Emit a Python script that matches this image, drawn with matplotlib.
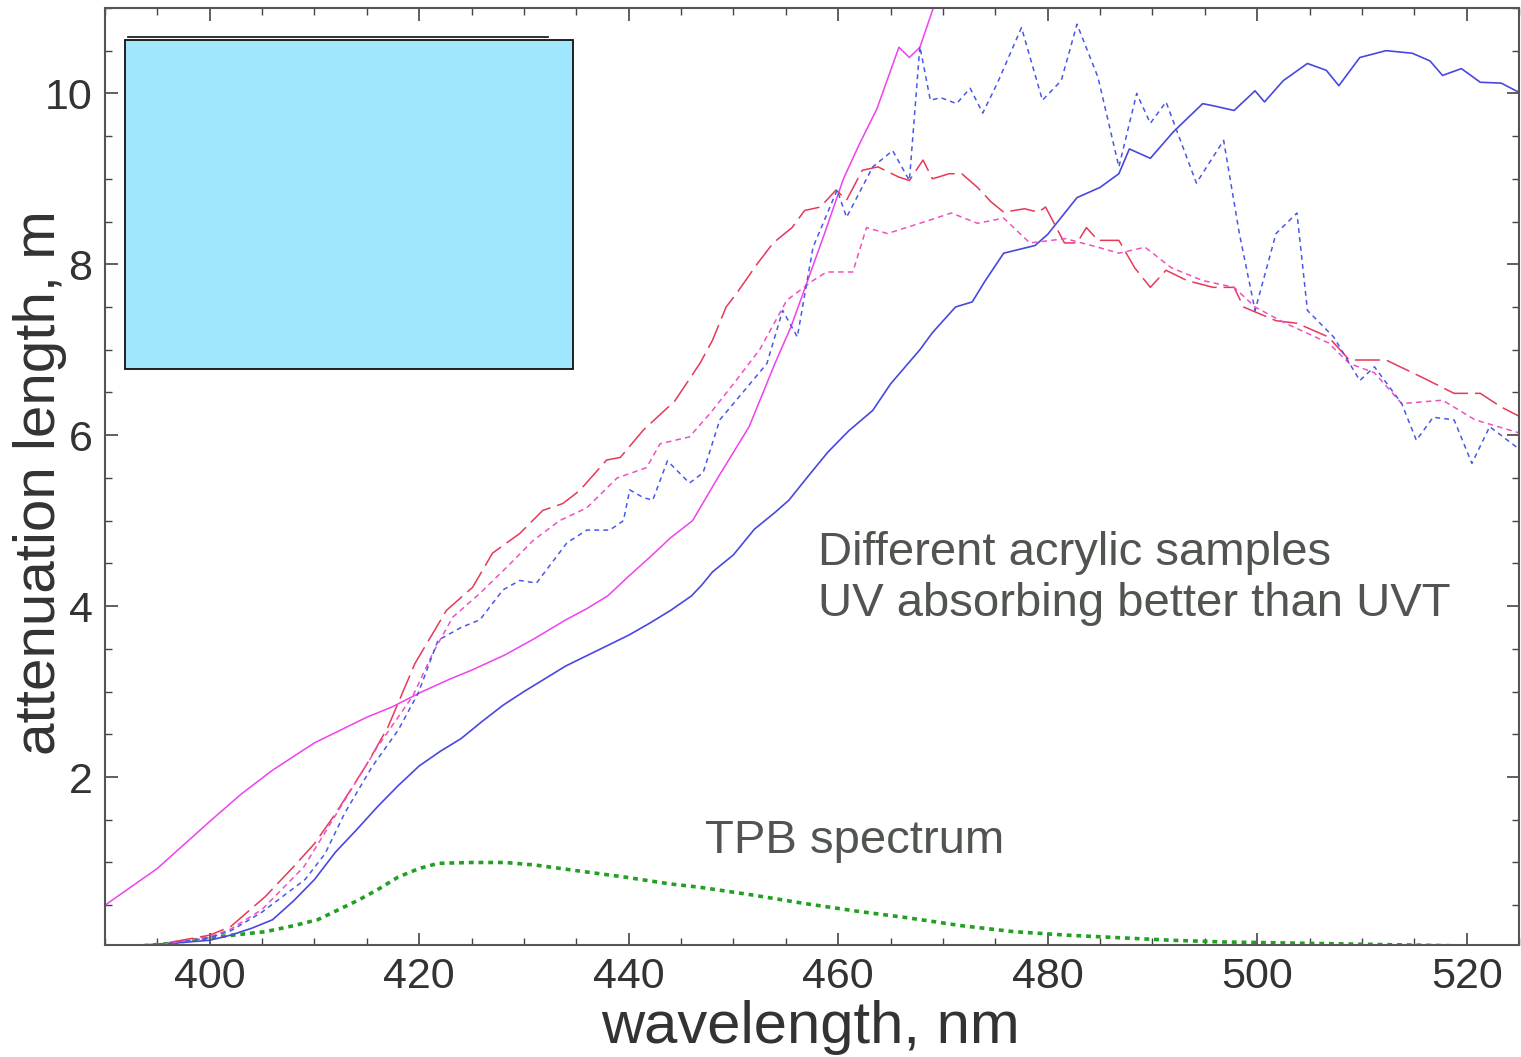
import matplotlib
matplotlib.use("Agg")
import matplotlib.pyplot as plt
from matplotlib.patches import Rectangle
from matplotlib.ticker import MultipleLocator

plt.rcParams['lines.scale_dashes'] = False

# magenta solid sample
wl_mag = [390, 395, 400, 403, 406, 410, 415, 417.4, 420.3, 423, 425, 428.2, 431, 434, 436, 438,
          440, 442, 444, 446.1, 448.5, 450, 451.5, 453, 454, 455.5, 457, 458.7, 460.5, 462,
          463.7, 465.8, 466.8, 467.8, 469, 470]
att_mag = [0.5, 0.93, 1.48, 1.8, 2.08, 2.4, 2.7, 2.82, 3.0, 3.15, 3.25, 3.43, 3.62, 3.84, 3.97, 4.12,
           4.35, 4.57, 4.8, 5.0, 5.5, 5.8, 6.1, 6.55, 6.85, 7.27, 7.78, 8.36, 9.0, 9.4,
           9.82, 10.54, 10.42, 10.54, 10.97, 11.4]

# blue solid sample
wl_blue = [390, 393, 396, 400, 402, 404, 406, 408, 410, 412, 414, 416, 418, 420, 422, 424, 426,
           428, 430, 432, 434, 436, 438, 440, 442, 444, 446, 447, 448, 450, 452, 454, 455.3,
           457, 459, 461, 463.3, 465, 467.8, 469, 471.2, 472.8, 474, 475.8, 478.8, 480, 482.8,
           485, 486.8, 487.8, 489.8, 492, 494.8, 496, 497.8, 499.8, 500.7, 502.5, 504.8, 506.6,
           507.8, 509.8, 512.3, 514.8, 516.5, 517.7, 519.5, 521.3, 523.3, 525.2]
att_blue = [0.02, 0.03, 0.05, 0.09, 0.15, 0.23, 0.33, 0.55, 0.8, 1.12, 1.38, 1.65, 1.9, 2.13, 2.3, 2.45, 2.65,
            2.84, 3.0, 3.15, 3.3, 3.42, 3.54, 3.66, 3.8, 3.95, 4.12, 4.25, 4.4, 4.6, 4.9, 5.1, 5.24,
            5.5, 5.8, 6.05, 6.29, 6.6, 7.0, 7.2, 7.5, 7.56, 7.8, 8.13, 8.22, 8.35, 8.78,
            8.9, 9.06, 9.35, 9.24, 9.55, 9.88, 9.85, 9.8, 10.03, 9.9, 10.15, 10.35, 10.27,
            10.09, 10.42, 10.5, 10.47, 10.38, 10.21, 10.29, 10.13, 10.12, 10.0]

# red long-dashed sample
wl_red = [390, 393, 396, 400, 402, 405.3, 408, 410, 412, 415, 417, 419.6, 422.6, 425.1, 427, 429.6,
          431.8, 433.7, 435.3, 437.9, 439.2, 441.4, 444.4, 446.8, 448, 449.3, 450.3, 452.3, 453.8, 455.6,
          456.8, 458.3, 459.8, 460.8, 462.3, 463.8, 465.8, 466.8, 468.1, 469, 470.6, 471.8, 473.3,
          474.6, 475.8, 477.8, 479.1, 479.8, 481.6, 482.8, 483.7, 484.8, 486.8, 488.3, 489.8, 491.3,
          493.3, 495.8, 497.8, 498.7, 501.8, 503.8, 506.8, 508.8, 510.8, 512.3, 515.7, 518.8, 521.3,
          523.3, 525.2]
att_red = [0.0, 0.02, 0.06, 0.15, 0.25, 0.6, 0.95, 1.22, 1.57, 2.15, 2.58, 3.33, 3.95, 4.22, 4.62, 4.85,
           5.12, 5.2, 5.35, 5.71, 5.74, 6.06, 6.4, 6.84, 7.11, 7.5, 7.66, 8.01, 8.25, 8.43,
           8.63, 8.67, 8.87, 8.75, 9.1, 9.14, 9.02, 8.98, 9.22, 9.0, 9.06, 9.06, 8.9,
           8.73, 8.61, 8.65, 8.61, 8.67, 8.25, 8.25, 8.43, 8.28, 8.28, 7.96, 7.73, 7.93,
           7.81, 7.73, 7.73, 7.5, 7.34, 7.31, 7.15, 6.88, 6.88, 6.88, 6.68, 6.49, 6.49,
           6.33, 6.21]

# pink short-dashed sample
wl_pink = [390, 393, 396, 400, 402, 405, 409, 413, 416, 419.4, 421.3, 423.2, 425.8, 428.4,
           430.9, 433.4, 436, 438.9, 441.7, 443, 445.8, 447.8, 450, 452.5, 455.1, 457.6, 458.9,
           461.4, 462.7, 464.7, 467.8, 470.8, 473.3, 475.8, 478.3, 481.7, 484.8, 486.8, 489.3,
           491.8, 494.8, 497.8, 499.8, 502.7, 506.8, 508.8, 511.2, 513.8, 517.7, 520.8, 525.2]
att_pink = [0.0, 0.02, 0.05, 0.13, 0.22, 0.45, 0.95, 1.75, 2.35, 2.95, 3.45, 3.87, 4.15, 4.46,
            4.77, 5.0, 5.15, 5.5, 5.62, 5.9, 5.98, 6.26, 6.6, 7.0, 7.58, 7.81, 7.91,
            7.91, 8.43, 8.36, 8.48, 8.6, 8.48, 8.54, 8.25, 8.3, 8.2, 8.13, 8.2,
            7.96, 7.81, 7.73, 7.5, 7.31, 7.08, 6.84, 6.73, 6.37, 6.41, 6.18, 6.02]

# blue dotted sample
wl_bdot = [390, 393, 396, 400, 402, 405, 409.1, 411, 412.9, 415.5, 418, 419.9, 421.8, 424, 425.8, 428,
           429.6, 431.2, 434.1, 436, 438.2, 439.5, 440.1, 441.4, 442.3, 443.7, 445.8, 447.1, 448.7,
           451.3, 453.2, 454.7, 456.1, 457.6, 459.9, 460.8, 463.3, 465.2, 466.8, 467.8, 468.8, 469.8,
           471.3, 472.6, 473.8, 475.2, 477.5, 479.5, 481.3, 482.8, 484.8, 486.8, 488.5, 489.8,
           491.3, 494.2, 496.8, 498.3, 499.8, 501.8, 503.8, 504.8, 507.3, 509.8, 511.2, 513.8,
           515.2, 516.8, 518.8, 520.5, 522.2, 525.2]
att_bdot = [0.0, 0.02, 0.05, 0.12, 0.2, 0.42, 0.8, 1.1, 1.58, 2.12, 2.55, 2.98, 3.6, 3.75, 3.84, 4.19,
            4.3, 4.27, 4.74, 4.89, 4.89, 5.0, 5.36, 5.27, 5.24, 5.7, 5.44, 5.56, 6.18,
            6.56, 6.84, 7.46, 7.15, 8.2, 8.87, 8.55, 9.14, 9.33, 8.98, 10.55, 9.92, 9.95,
            9.88, 10.06, 9.77, 10.12, 10.77, 9.92, 10.15, 10.81, 10.19, 9.14, 10.0, 9.65,
            9.9, 8.95, 9.45, 8.36, 7.46, 8.36, 8.6, 7.46, 7.15, 6.64, 6.8, 6.37,
            5.94, 6.21, 6.18, 5.67, 6.1, 5.82]

# TPB emission spectrum (normalised)
wl_tpb = [390, 393, 396, 400, 403, 405.3, 408, 410.3, 412, 414.2, 416, 418, 420, 421.8, 425,
          428.2, 431.1, 435.3, 439.6, 443.9, 446.8, 451.8, 456.8, 461.8, 466.8, 471.8, 476.8,
          481.8, 486.8, 491.8, 496.8, 501.8, 506.8, 511.8, 516.8, 521]
tpb = [0.0, 0.02, 0.05, 0.12, 0.16, 0.19, 0.26, 0.33, 0.43, 0.56, 0.68, 0.83, 0.93, 0.99, 1.0,
       1.0, 0.97, 0.9, 0.83, 0.75, 0.71, 0.62, 0.52, 0.43, 0.35, 0.26, 0.19,
       0.15, 0.12, 0.09, 0.07, 0.06, 0.05, 0.04, 0.03, 0.02]

fig = plt.figure(figsize=(15.21, 10.57), dpi=100)
ax = fig.add_axes([0.069, 0.106, 0.9297, 0.8865])

ax.plot(wl_tpb, tpb, color='#22a022', lw=2.6, dashes=(3.5, 3.5))
ax.plot(wl_blue, att_blue, color='#4848e0', lw=1.2)
ax.plot(wl_mag, att_mag, color='#f040f0', lw=1.1)
ax.plot(wl_red, att_red, color='#e83858', lw=1.1, dashes=(18, 5))
ax.plot(wl_pink, att_pink, color='#f050c0', lw=1.1, dashes=(4, 3))
ax.plot(wl_bdot, att_bdot, color='#4858e8', lw=1.1, dashes=(3.5, 3))

ax.set_xlim(390, 525)
ax.set_ylim(0.035, 11.0)
ax.set_xticks([400, 420, 440, 460, 480, 500, 520])
ax.set_yticks([2, 4, 6, 8, 10])
ax.xaxis.set_minor_locator(MultipleLocator(5))
ax.yaxis.set_minor_locator(MultipleLocator(0.5))
ax.tick_params(which='both', direction='in', top=True, right=True, colors='#444444')
ax.tick_params(which='major', length=9, width=1.2, labelsize=31, pad=9, labelcolor='#333333')
ax.tick_params(which='minor', length=5, width=1.0)
for lab in ax.get_xticklabels() + ax.get_yticklabels():
    lab.set_family('Liberation Sans')
for sp in ax.spines.values():
    sp.set_color('#555555')
    sp.set_linewidth(1.5)

# light blue box covering the top-left corner
ax.add_patch(Rectangle((0.0141, 0.615), 0.317, 0.351, transform=ax.transAxes,
                       facecolor='#a0e6fc', edgecolor='#111111', lw=1.3, zorder=5))
ax.plot([0.0163, 0.3133], [0.969, 0.969], transform=ax.transAxes, color='#222222',
        lw=1.3, zorder=5)

txt_col = '#505550'
ax.text(458.1, 4.48, 'Different acrylic samples', fontsize=34, color=txt_col,
        family='Liberation Sans', va='baseline')
ax.text(458.1, 3.89, 'UV absorbing better than UVT', fontsize=34, color=txt_col,
        family='Liberation Sans', va='baseline')
ax.text(447.3, 1.11, 'TPB spectrum', fontsize=34, color=txt_col,
        family='Liberation Sans', va='baseline')

fig.text(810 / 1521, 14 / 1057, 'wavelength, nm', fontsize=43, color='#333333',
         family='Liberation Sans', ha='center', va='baseline')
fig.text(55 / 1521, 0.543, 'attenuation length, m', fontsize=42, color='#333333',
         family='Liberation Sans', rotation=90, rotation_mode='anchor',
         ha='center', va='baseline')

fig.savefig('out.png', dpi=100)
